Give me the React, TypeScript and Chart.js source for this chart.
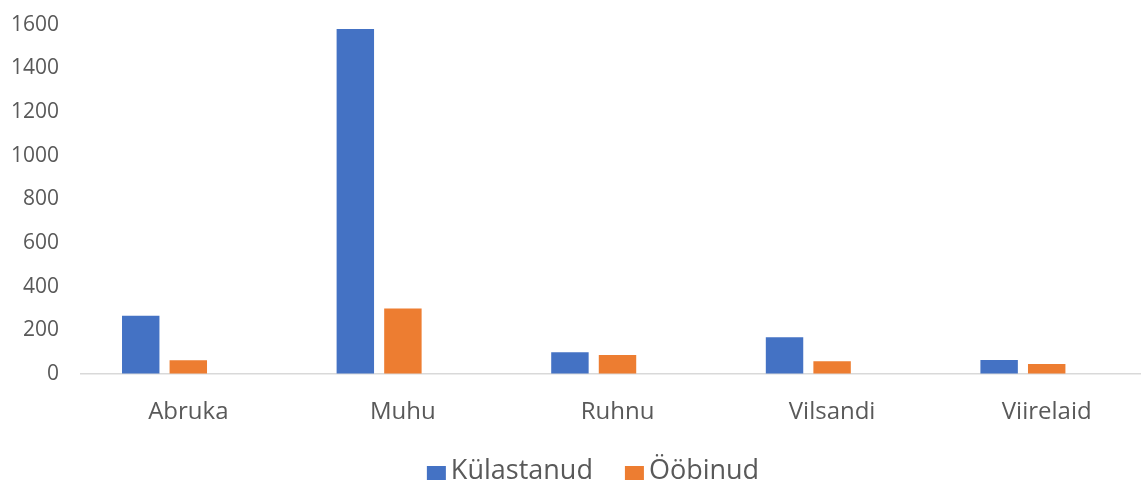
import React, { useEffect, useRef } from "react";
import { Chart, registerables } from "chart.js";

Chart.register(...registerables);

const categories = ["Abruka", "Muhu", "Ruhnu", "Vilsandi", "Viirelaid"];
const kulastanud = [267, 1580, 100, 168, 64];
const oobinud = [63, 300, 87, 58, 46];
const emptySeries = [null, null, null, null, null];
const seriesNames = ["Külastanud", "Ööbinud"];
const yMax = 1600;
const yStep = 200;

const FONT = "'Open Sans', 'Noto Sans', sans-serif";
const TEXT = "#595959";
const COLORS = ["#4472C4", "#ED7D31"];

const legendPlugin = {
  id: "bottomLegend",
  afterDraw(chart: any) {
    const ctx = chart.ctx as CanvasRenderingContext2D;
    const items = chart.data.datasets.filter((d: any) => d.label);
    const box = 19;
    const boxGap = 5;
    const itemGap = 32;
    const centerX = 593;
    const boxTop = 466;
    const baseline = 479;
    ctx.save();
    ctx.font = `27px ${FONT}`;
    const widths = items.map((d: any) => ctx.measureText(d.label).width);
    const total =
      widths.reduce((s: number, w: number) => s + box + boxGap + w, 0) +
      itemGap * (items.length - 1);
    let x = centerX - total / 2;
    items.forEach((d: any, i: number) => {
      ctx.fillStyle = d.backgroundColor;
      ctx.fillRect(x, boxTop, box, box);
      ctx.fillStyle = TEXT;
      ctx.textBaseline = "alphabetic";
      ctx.textAlign = "left";
      ctx.fillText(d.label, x + box + boxGap, baseline);
      x += box + boxGap + widths[i] + itemGap;
    });
    ctx.restore();
  },
};

export default function App() {
  const ref = useRef<HTMLCanvasElement | null>(null);

  useEffect(() => {
    if (!ref.current) return;
    const chart = new Chart(ref.current, {
      type: "bar",
      data: {
        labels: categories,
        datasets: [
          {
            label: seriesNames[0],
            data: kulastanud,
            backgroundColor: COLORS[0],
            categoryPercentage: 0.665,
            barPercentage: 0.787,
          },
          {
            label: seriesNames[1],
            data: oobinud,
            backgroundColor: COLORS[1],
            categoryPercentage: 0.665,
            barPercentage: 0.787,
          },
          {
            label: "",
            data: emptySeries as any,
            backgroundColor: "rgba(0,0,0,0)",
            categoryPercentage: 0.665,
            barPercentage: 0.787,
          },
        ],
      },
      options: {
        responsive: false,
        animation: false,
        layout: { padding: { left: 0, right: 32, top: 0, bottom: 57 } },
        scales: {
          x: {
            grid: { display: false, drawTicks: false },
            border: { display: true, color: "#D9D9D9", width: 1.5 },
            ticks: {
              color: TEXT,
              font: { family: FONT, size: 24 },
              padding: 24,
            },
            afterFit: (scale: any) => {
              scale.height = 49;
            },
          },
          y: {
            min: 0,
            max: yMax,
            grid: {
              display: true,
              drawOnChartArea: false,
              drawTicks: true,
              tickLength: 10,
              tickColor: "rgba(0,0,0,0)",
            },
            border: { display: false },
            ticks: {
              stepSize: yStep,
              color: TEXT,
              font: { family: FONT, size: 21 },
              padding: 12,
              callback: (v: any) => String(v),
            },
            afterFit: (scale: any) => {
              scale.width = 81;
            },
          },
        },
        plugins: {
          tooltip: { enabled: false },
          legend: { display: false },
        },
      },
      plugins: [legendPlugin],
    });
    return () => chart.destroy();
  }, []);

  return (
    <div
      style={{
        position: "absolute",
        left: 0,
        top: 0,
        width: 1141,
        height: 480,
        overflow: "hidden",
        background: "#fff",
      }}
    >
      <canvas ref={ref} width={1186} height={480} />
    </div>
  );
}
